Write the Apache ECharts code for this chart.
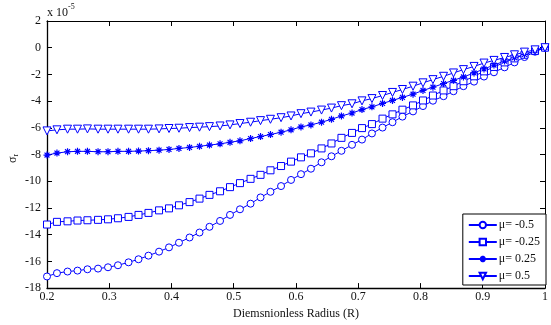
<!DOCTYPE html>
<html>
<head>
<meta charset="utf-8">
<script src="https://cdn.jsdelivr.net/npm/echarts@6/dist/echarts.min.js"></script>
<style>
  html, body { margin: 0; padding: 0; background: #fff; }
  #main { width: 551px; height: 325px; }
</style>
</head>
<body>
<div id="main"></div>
<script>
// radius points (R)
const radius = [0.200, 0.216, 0.233, 0.249, 0.265, 0.282, 0.298, 0.314, 0.331, 0.347,
  0.363, 0.380, 0.396, 0.412, 0.429, 0.445, 0.461, 0.478, 0.494, 0.510,
  0.527, 0.543, 0.559, 0.576, 0.592, 0.608, 0.624, 0.641, 0.657, 0.673,
  0.690, 0.706, 0.722, 0.739, 0.755, 0.771, 0.788, 0.804, 0.820, 0.837,
  0.853, 0.869, 0.886, 0.902, 0.918, 0.935, 0.951, 0.967, 0.984, 1.000]

// sigma_r values, units of 1e-5
const muNeg05 = [-17.13, -16.88, -16.76, -16.69, -16.59, -16.54, -16.44, -16.29, -16.07, -15.84,
  -15.57, -15.27, -14.95, -14.60, -14.21, -13.84, -13.41, -12.97, -12.52, -12.10,
  -11.68, -11.21, -10.79, -10.36, -9.90, -9.47, -9.06, -8.58, -8.13, -7.72,
  -7.27, -6.88, -6.42, -5.98, -5.58, -5.16, -4.77, -4.37, -3.97, -3.63,
  -3.26, -2.88, -2.54, -2.16, -1.84, -1.47, -1.10, -0.70, -0.30, 0]
const muNeg025 = [-13.24, -13.04, -13.00, -12.94, -12.92, -12.89, -12.85, -12.77, -12.67, -12.52,
  -12.37, -12.18, -12.03, -11.80, -11.56, -11.30, -11.02, -10.75, -10.44, -10.14,
  -9.82, -9.52, -9.18, -8.86, -8.53, -8.21, -7.91, -7.54, -7.17, -6.75,
  -6.38, -6.02, -5.72, -5.31, -4.99, -4.64, -4.32, -3.95, -3.58, -3.20,
  -2.88, -2.51, -2.14, -1.77, -1.44, -1.10, -0.80, -0.53, -0.25, 0]
const mu025 = [-8.04, -7.89, -7.79, -7.76, -7.76, -7.79, -7.79, -7.76, -7.76, -7.74,
  -7.71, -7.67, -7.62, -7.54, -7.47, -7.38, -7.29, -7.20, -7.08, -6.97,
  -6.80, -6.65, -6.50, -6.33, -6.15, -5.93, -5.78, -5.58, -5.36, -5.11,
  -4.89, -4.63, -4.43, -4.17, -3.95, -3.72, -3.48, -3.20, -2.96, -2.68,
  -2.44, -2.19, -1.89, -1.59, -1.30, -1.00, -0.75, -0.50, -0.23, 0]
const mu05 = [-6.23, -6.15, -6.10, -6.10, -6.08, -6.10, -6.10, -6.10, -6.10, -6.10,
  -6.10, -6.08, -6.05, -6.03, -5.98, -5.95, -5.91, -5.86, -5.78, -5.68,
  -5.58, -5.46, -5.36, -5.24, -5.11, -4.94, -4.82, -4.67, -4.52, -4.34,
  -4.20, -3.98, -3.81, -3.58, -3.35, -3.13, -2.88, -2.63, -2.39, -2.14,
  -1.89, -1.64, -1.40, -1.15, -0.95, -0.73, -0.53, -0.33, -0.16, 0]

const names = ['μ= -0.5', 'μ= -0.25', 'μ= 0.25', 'μ= 0.5']

const blue = '#0000ff'
const font = 'Liberation Serif'
// asterisk marker like matlab '*'
const star = 'path://M5,0L5,10M0,5L10,5M1.5,1.5L8.5,8.5M1.5,8.5L8.5,1.5'

let pairs = (vals) => radius.map((r, i) => [r, vals[i]])

let mkSeries = (name, vals, symbol, size, extra) => Object.assign({
  name: name,
  type: 'line',
  data: pairs(vals),
  symbol: symbol,
  symbolSize: size,
  showAllSymbol: true,
  lineStyle: { color: blue, width: 1 },
  itemStyle: { color: '#fff', borderColor: blue, borderWidth: 1 },
  emphasis: { disabled: true },
  animation: false
}, extra || {})

var chartDom = document.getElementById('main');
var myChart = echarts.init(chartDom);
let option = {
  animation: false,
  grid: { left: 47, right: 2, top: 21, bottom: 34 },
  xAxis: [{
    type: 'value', min: 0.2, max: 1, interval: 0.1,
    axisLine: { onZero: false, lineStyle: { color: '#000', width: 1.3 } },
    axisTick: { inside: true, length: 5, lineStyle: { color: '#000' } },
    axisLabel: { color: '#111', fontFamily: font, fontSize: 12, margin: 3,
      formatter: (v) => String(Math.round(v * 10) / 10) },
    splitLine: { show: false },
    name: 'Diemsnionless Radius (R)', nameLocation: 'middle', nameGap: 17,
    nameTextStyle: { color: '#111', fontFamily: font, fontSize: 12 }
  }, {
    type: 'value', min: 0.2, max: 1, interval: 0.1, position: 'top',
    axisLine: { show: true, onZero: false, lineStyle: { color: '#000', width: 1 } },
    axisTick: { inside: true, length: 5, lineStyle: { color: '#000' } },
    axisLabel: { show: false }, splitLine: { show: false }
  }],
  yAxis: [{
    type: 'value', min: -18, max: 2, interval: 2,
    axisLine: { show: true, onZero: false, lineStyle: { color: '#000', width: 1.3 } },
    axisTick: { inside: true, length: 5, lineStyle: { color: '#000' } },
    axisLabel: { color: '#111', fontFamily: font, fontSize: 12, margin: 6 },
    splitLine: { show: false }
  }, {
    type: 'value', min: -18, max: 2, interval: 2, position: 'right',
    axisLine: { show: true, onZero: false, lineStyle: { color: '#000', width: 1 } },
    axisTick: { inside: true, length: 5, lineStyle: { color: '#000' } },
    axisLabel: { show: false }, splitLine: { show: false }
  }],
  legend: {
    orient: 'vertical', right: 5, bottom: 40,
    data: names,
    itemWidth: 28, itemHeight: 8, itemGap: 5,
    padding: [5, 6, 3, 5],
    backgroundColor: '#fff', borderColor: '#000', borderWidth: 1,
    textStyle: { color: '#111', fontFamily: font, fontSize: 12, padding: [0, 0, 0, -3] }
  },
  graphic: [{
    type: 'text', left: 47, top: 3,
    style: {
      text: '{a|x 10}{b|-5}', fill: '#111',
      rich: {
        a: { fontFamily: font, fontSize: 12, padding: [6, 0, 0, 0] },
        b: { fontFamily: font, fontSize: 8, padding: [0, 0, 6, 0] }
      }
    }
  }, {
    type: 'text', x: 6, y: 163, rotation: Math.PI / 2,
    style: {
      text: '{a|σ}{b|r}', fill: '#111',
      rich: {
        a: { fontFamily: font, fontSize: 12 },
        b: { fontFamily: font, fontSize: 8, padding: [6, 0, 0, 0] }
      }
    }
  }],
  series: [
    mkSeries(names[0], muNeg05, 'circle', 7),
    mkSeries(names[1], muNeg025, 'rect', 7),
    mkSeries(names[2], mu025, star, 7, { itemStyle: { color: 'none', borderColor: blue, borderWidth: 1.2 } }),
    mkSeries(names[3], mu05, 'triangle', 8, { symbolRotate: 180 })
  ]
};
option && myChart.setOption(option);
</script>
</body>
</html>
